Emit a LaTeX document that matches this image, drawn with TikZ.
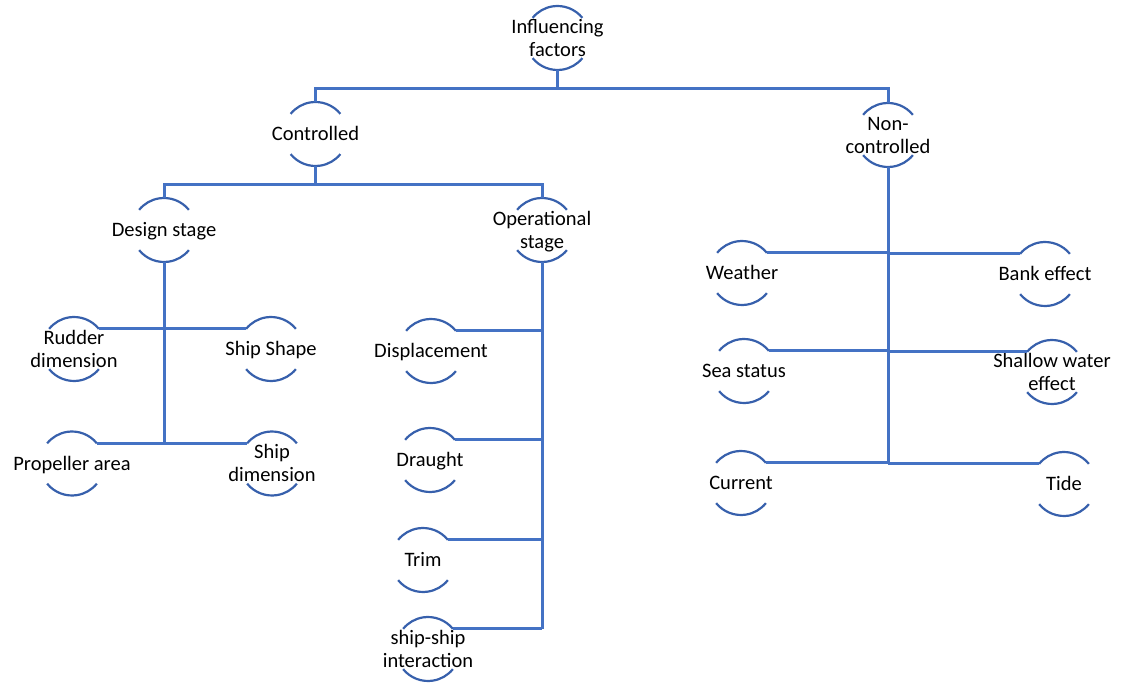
\documentclass[tikz,border=0pt]{standalone}
\usepackage{fontspec}
\setmainfont{Carlito}
\definecolor{busblue}{RGB}{68,114,196}
\definecolor{arcblue}{RGB}{55,96,172}
% centred text of a factor, taking no width and set slightly low
\newcommand\fcttext[1]{\makebox[0pt]{\raisebox{-2pt}[\height][\depth]{\begin{tabular}{@{}c@{}}#1\end{tabular}}}}
\tikzset{
  factor/.style={circle, minimum size=64pt, inner sep=0pt, outer sep=0pt,
    font=\fontsize{20.5}{23}\selectfont, text=black},
  bus/.style={draw=busblue, line width=3pt},
  rim/.style={draw=arcblue, line width=2.2pt},
}
\begin{document}
\begin{tikzpicture}[x=1pt,y=1pt]
\useasboundingbox (0,0) rectangle (1130,-684);
% factor nodes (centres)
\node[factor] (inf) at (557.5,-38)  {\fcttext{Influencing\\factors}};
\node[factor] (ctl) at (315.5,-134) {\fcttext{Controlled}};
\node[factor] (nc)  at (888,-135)   {\fcttext{Non-\\controlled}};
\node[factor] (ds)  at (164,-230)   {\fcttext{Design stage}};
\node[factor] (os)  at (542,-230)   {\fcttext{Operational\\stage}};
% design stage factors
\node[factor] (rud) at (74,-349)    {\fcttext{Rudder\\dimension}};
\node[factor] (shp) at (271,-349)   {\fcttext{Ship Shape}};
\node[factor] (pa)  at (72,-463.5)  {\fcttext{Propeller area}};
\node[factor] (sd)  at (272,-463.5) {\fcttext{Ship\\dimension}};
% operational stage factors
\node[factor] (dis) at (431,-351)   {\fcttext{Displacement}};
\node[factor] (dra) at (430,-460)   {\fcttext{Draught}};
\node[factor] (tri) at (423,-560)   {\fcttext{Trim}};
\node[factor] (ssi) at (428,-649)   {\fcttext{ship-ship\\interaction}};
% non-controlled factors
\node[factor] (wea) at (742,-273)   {\fcttext{Weather}};
\node[factor] (ban) at (1045,-274)  {\fcttext{Bank effect}};
\node[factor] (sea) at (744,-371)   {\fcttext{Sea status}};
\node[factor] (sha) at (1052,-372)  {\fcttext{Shallow water\\effect}};
\node[factor] (cur) at (741,-483)   {\fcttext{Current}};
\node[factor] (tid) at (1064,-484)  {\fcttext{Tide}};

% upper and lower rims of every factor
\foreach \n in {inf,ctl,nc,ds,os,rud,shp,pa,sd,dis,dra,tri,ssi,wea,ban,sea,sha,cur,tid}{
  \draw[rim] (\n.39) arc[start angle=39, end angle=141, radius=32pt];
  \draw[rim] (\n.-141) arc[start angle=-141, end angle=-39, radius=32pt];
}

% bus levels
\coordinate (top) at (0,-89);
\coordinate (mid) at (0,-185);

% tree connectors
\draw[bus] (inf.south) -- (inf.south |- top);
\draw[bus] (ctl.north) -- (ctl.north |- top) -- (nc.north |- top) -- (nc.north);
\draw[bus] (ctl.south) -- (ctl.south |- mid);
\draw[bus] (ds.north) -- (ds.north |- mid) -- (os.north |- mid) -- (os.north);

% design stage branch
\draw[bus] (ds.south) -- (ds.south |- pa.39);
\draw[bus] (rud.39) -- (shp.141);
\draw[bus] (pa.39) -- (sd.141);

% operational stage branch
\draw[bus] (os.south) -- (os.south |- ssi.39);
\foreach \n in {dis,dra,tri,ssi}
  \draw[bus] (\n.39) -- (\n.39 -| os.south);

% non-controlled branch
\draw[bus] (nc.south) -- (nc.south |- cur.39);
\foreach \n in {wea,sea,cur}
  \draw[bus] (\n.39) -- (\n.39 -| nc.south);
\foreach \n in {ban,sha,tid}
  \draw[bus] (\n.141) -- (\n.141 -| nc.south);
\end{tikzpicture}
\end{document}
